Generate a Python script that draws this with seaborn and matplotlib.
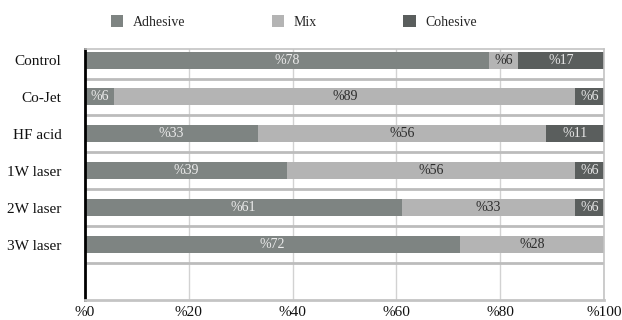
import matplotlib
matplotlib.use("Agg")
import matplotlib.pyplot as plt
from matplotlib.patches import Patch
import seaborn as sns
import pandas as pd
import numpy as np

categories = ["Control", "Co-Jet", "HF acid", "1W laser", "2W laser", "3W laser"]
adhesive = [77.8, 5.6, 33.3, 38.9, 61.1, 72.2]
mix = [5.6, 88.9, 55.6, 55.6, 33.3, 27.8]
cohesive = [16.7, 5.6, 11.1, 5.6, 5.6, 0.0]
series_names = ["Adhesive", "Mix", "Cohesive"]
xticks = [0, 20, 40, 60, 80, 100]
xtick_labels = ["%0", "%20", "%40", "%60", "%80", "%100"]

colors = {"Adhesive": "#7e8482", "Mix": "#b4b4b4", "Cohesive": "#5a5e5d"}
text_colors = {"Adhesive": "#ececec", "Mix": "#2a2a2a", "Cohesive": "#e6e6e6"}

sns.set_theme(style="white")
plt.rcParams["font.family"] = ["Liberation Serif", "DejaVu Serif"]

df = pd.DataFrame({"cat": categories, "Adhesive": adhesive, "Mix": mix, "Cohesive": cohesive})
df["c1"] = df["Adhesive"]
df["c2"] = df["Adhesive"] + df["Mix"]
df["c3"] = df["c2"] + df["Cohesive"]

fig = plt.figure(figsize=(6.22, 3.2), dpi=100)
ax = fig.add_axes([85/622, 1-300/320, (604-85)/622, (300-49)/320])

w = 0.46
sns.barplot(data=df, y="cat", x="c3", orient="h", color=colors["Cohesive"], width=w, ax=ax, saturation=1, linewidth=0)
sns.barplot(data=df, y="cat", x="c2", orient="h", color=colors["Mix"], width=w, ax=ax, saturation=1, linewidth=0)
sns.barplot(data=df, y="cat", x="c1", orient="h", color=colors["Adhesive"], width=w, ax=ax, saturation=1, linewidth=0)

# segment labels
for i, row in df.iterrows():
    left = 0.0
    for name in series_names:
        v = row[name]
        if v > 0:
            ax.text(left + v/2, i, f"%{v:.0f}", ha="center", va="center",
                    fontsize=10, color=text_colors[name])
        left += v

ax.set_xlim(0, 100)
ax.set_ylim(6.5, -0.3)
ax.set_xticks(xticks)
ax.set_xticklabels(xtick_labels, fontsize=11)
ax.set_xlabel("")
ax.set_ylabel("")
ax.tick_params(axis="y", length=0, pad=17, labelsize=11)
ax.tick_params(axis="x", length=0, pad=4, labelsize=11)
for lab in ax.get_yticklabels():
    lab.set_color("#111111")
for lab in ax.get_xticklabels():
    lab.set_color("#111111")

# gridlines
ax.set_axisbelow(True)
for x in xticks[1:]:
    ax.axvline(x, color="#d2d2d2", lw=1, zorder=0)
for y in np.arange(0.5, 6.0, 1.0):
    ax.axhline(y, color="#bcbcbc", lw=2, zorder=0)

for s in ["top", "right", "bottom"]:
    ax.spines[s].set_color("#c4c4c4")
    ax.spines[s].set_linewidth(1.2)
ax.spines["bottom"].set_linewidth(2)
ax.spines["left"].set_color("#000000")
ax.spines["left"].set_linewidth(2)

handles = [Patch(facecolor=colors[n], edgecolor="none", label=n) for n in series_names]
fig.legend(handles=handles, loc="center", bbox_to_anchor=(294/622, 1-22/320), ncol=3,
           frameon=False, fontsize=10, handlelength=0.9, handleheight=0.9,
           handletextpad=0.7, columnspacing=6.2)

fig.savefig("out.png", dpi=100)
